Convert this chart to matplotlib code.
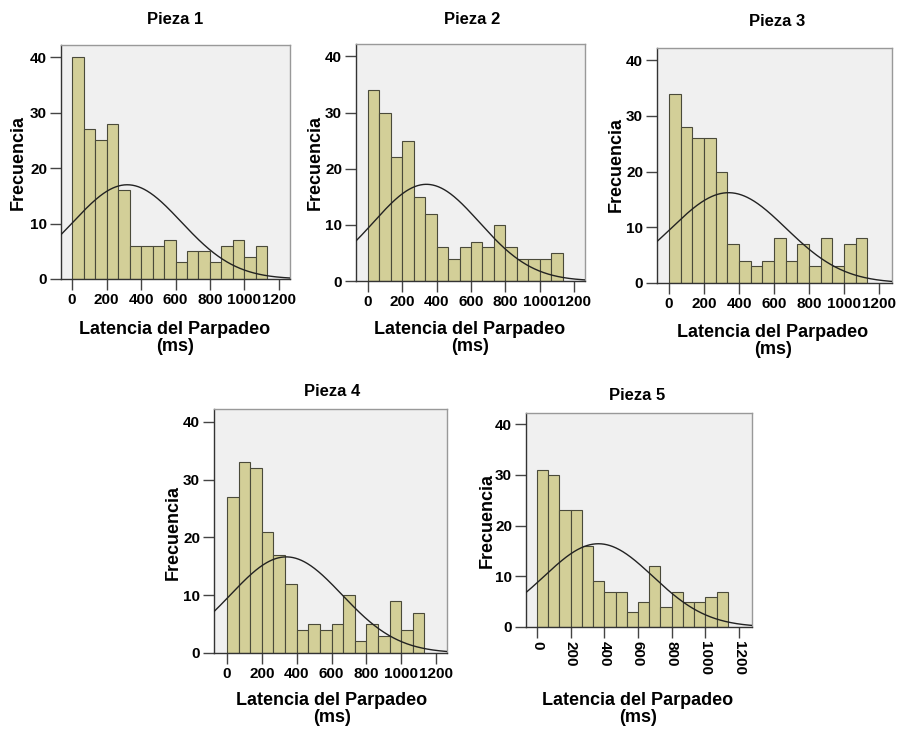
import numpy as np
import matplotlib
matplotlib.use("Agg")
import matplotlib.pyplot as plt

plt.rcParams['font.family'] = ['Liberation Sans', 'DejaVu Sans']

# ---- data ----
titles = ["Pieza 1", "Pieza 2", "Pieza 3", "Pieza 4", "Pieza 5"]
bin_width = 1200 / 18
counts_p1 = [40, 27, 25, 28, 16, 6, 6, 6, 7, 3, 5, 5, 3, 6, 7, 4, 6]
counts_p2 = [34, 30, 22, 25, 15, 12, 6, 4, 6, 7, 6, 10, 6, 4, 4, 4, 5]
counts_p3 = [34, 28, 26, 26, 20, 7, 4, 3, 4, 8, 4, 7, 3, 8, 3, 7, 8]
counts_p4 = [27, 33, 32, 21, 17, 12, 4, 5, 4, 5, 10, 2, 5, 3, 9, 4, 7]
counts_p5 = [31, 30, 23, 23, 16, 9, 7, 7, 3, 5, 12, 4, 7, 5, 5, 6, 7]
all_counts = [counts_p1, counts_p2, counts_p3, counts_p4, counts_p5]
means = [320, 340, 340, 340, 365]
sds = [313, 309, 328, 320, 324]
x_ticks = [0, 200, 400, 600, 800, 1000, 1200]
y_ticks = [0, 10, 20, 30, 40]
x_label = "Latencia del Parpadeo\n(ms)"
y_label = "Frecuencia"

# ---- layout (pixels) ----
W, H = 897, 729
rects = [(61, 45, 290, 279), (356, 44, 585, 281), (657, 48, 892, 283),
         (214, 409, 447, 653), (526, 413, 752, 627)]
xlims = [(-64, 1264), (-70, 1264), (-69, 1274), (-75, 1263), (-65, 1277)]
title_pos = [(175, 20), (472, 20), (777, 22), (332, 392), (637, 395)]
ylab_pos = [(18, 162), (315, 162), (616, 165), (173, 532), (487, 520)]
xlab_pos = [(175, 338), (470, 338), (773, 341), (332, 709), (638, 709)]

bar_color = "#D3CF98"
edge_color = "#4a4a3a"

fig = plt.figure(figsize=(W / 100, H / 100), dpi=100)
fig.patch.set_facecolor("white")

for i in range(5):
    l, t, r, b = rects[i]
    ax = fig.add_axes([l / W, 1 - b / H, (r - l) / W, (b - t) / H])
    ax.set_facecolor("#F0F0F0")
    counts = all_counts[i]
    edges = np.arange(len(counts) + 1) * bin_width
    ax.bar(edges[:-1], counts, width=bin_width, align="edge",
           color=bar_color, edgecolor=edge_color, linewidth=0.8, zorder=2)
    xs = np.linspace(xlims[i][0], xlims[i][1], 400)
    n = sum(counts)
    ys = n * bin_width / (sds[i] * np.sqrt(2 * np.pi)) * np.exp(-0.5 * ((xs - means[i]) / sds[i]) ** 2)
    ax.plot(xs, ys, color="#222222", linewidth=1.0, zorder=3)
    ax.set_xlim(*xlims[i])
    ax.set_ylim(0, 42.2)
    ax.set_xticks(x_ticks)
    ax.set_yticks(y_ticks)
    ax.tick_params(direction="out", length=8, width=1.0, color="#444444",
                   labelsize=11, pad=2)
    for lab in ax.get_xticklabels() + ax.get_yticklabels():
        lab.set_fontweight("bold")
    if i == 4:
        for lab in ax.get_xticklabels():
            lab.set_rotation(-90)
            lab.set_va("top")
            lab.set_ha("center")
    ax.spines["left"].set_color("#333333")
    ax.spines["bottom"].set_color("#333333")
    ax.spines["top"].set_color("#999999")
    ax.spines["right"].set_color("#999999")
    for s in ax.spines.values():
        s.set_linewidth(1.0)

    tx, ty = title_pos[i]
    fig.text(tx / W, 1 - ty / H, titles[i], ha="center", va="center",
             fontsize=12, fontweight="bold")
    yx, yy = ylab_pos[i]
    fig.text(yx / W, 1 - yy / H, y_label, ha="center", va="center",
             rotation=90, fontsize=13, fontweight="bold")
    lx, ly = xlab_pos[i]
    fig.text(lx / W, 1 - ly / H, x_label, ha="center", va="center",
             fontsize=13, fontweight="bold", linespacing=1.0)

fig.savefig("out.png", dpi=100)
